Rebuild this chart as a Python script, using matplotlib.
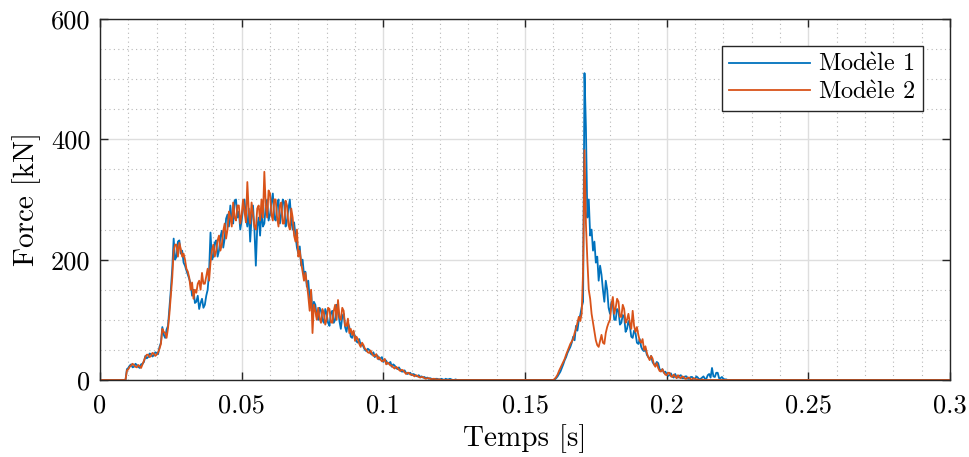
import numpy as np
import matplotlib
matplotlib.use("Agg")
import matplotlib.pyplot as plt
from matplotlib.ticker import MultipleLocator, FuncFormatter

plt.rcParams["font.family"] = ["cmr10", "DejaVu Serif"]
plt.rcParams["axes.formatter.use_mathtext"] = True
plt.rcParams["mathtext.fontset"] = "cm"

# -----------------------------------------------------------
# Data read off the reference (sampled every 0.5 ms)
# -----------------------------------------------------------
dt = 0.0005

# first impact, starts at t = 0.009 s
t0_event1 = 0.009
force1_event1 = [
    0, 18, 20, 24, 26, 21, 22, 27, 25, 22, 20, 26, 27, 30, 40, 36, 38, 44, 43, 39,
    41, 46, 45, 43, 55, 62, 88, 75, 70, 84, 90, 120, 150, 185, 235, 200, 205, 230, 232, 210,
    215, 195, 190, 182, 175, 168, 160, 140, 150, 128, 130, 140, 118, 128, 135, 120, 125, 140, 150, 180,
    245, 200, 205, 228, 232, 205, 215, 238, 248, 220, 235, 268, 275, 255, 290, 265, 260, 298, 300, 270,
    280, 250, 265, 285, 300, 270, 255, 285, 230, 270, 290, 250, 190, 255, 270, 240, 285, 255, 260, 290,
    300, 265, 275, 295, 310, 270, 265, 290, 300, 260, 275, 300, 295, 255, 265, 285, 300, 265, 250, 262,
    240, 220, 210, 222, 190, 200, 175, 180, 155, 165, 135, 148, 110, 130, 125, 105, 100, 120, 115, 100,
    95, 118, 110, 95, 90, 112, 115, 95, 100, 125, 120, 98, 85, 105, 110, 88, 80, 95, 88, 72,
    70, 80, 72, 64, 62, 68, 58, 60, 55, 50, 48, 52, 50, 44, 42, 46, 38, 42, 40, 34,
    36, 38, 30, 34, 32, 27, 28, 30, 22, 26, 24, 20, 18, 21, 17, 14, 14, 16, 12, 10,
    11, 12, 8, 10, 9, 7, 6, 8, 5, 6, 4, 5, 3, 4, 2, 3, 2, 1, 1, 2,
    2, 1, 1, 2, 1, 0, 2, 1, 1, 2, 1, 0, 0, 1, 0, 0, 0, 0, 0, 0,
    0, 0, 0,
]
force2_event1 = [
    0, 16, 18, 22, 24, 27, 25, 22, 21, 25, 23, 20, 26, 32, 38, 42, 42, 38, 40, 45,
    44, 40, 42, 46, 52, 60, 85, 80, 78, 70, 86, 110, 140, 170, 215, 225, 225, 205, 228, 218,
    205, 210, 200, 185, 180, 170, 150, 162, 135, 150, 145, 160, 165, 150, 178, 160, 160, 172, 185, 165,
    195, 215, 225, 205, 215, 232, 240, 215, 225, 248, 260, 235, 250, 280, 270, 255, 295, 270, 265, 290,
    290, 260, 275, 300, 280, 262, 329, 280, 260, 295, 275, 255, 250, 285, 290, 265, 300, 270, 346, 290,
    270, 315, 310, 275, 265, 300, 300, 270, 255, 290, 295, 260, 260, 298, 290, 258, 250, 285, 270, 240,
    230, 250, 205, 215, 195, 180, 165, 178, 160, 140, 115, 150, 78, 125, 115, 100, 120, 102, 95, 118,
    112, 92, 100, 120, 118, 96, 95, 115, 125, 100, 133, 105, 100, 120, 115, 90, 90, 102, 78, 85,
    75, 82, 65, 72, 68, 60, 55, 62, 58, 52, 50, 46, 45, 49, 44, 40, 40, 43, 35, 38,
    34, 31, 32, 35, 26, 29, 27, 24, 24, 21, 19, 22, 20, 17, 15, 17, 16, 13, 10, 12,
    12, 9, 9, 8, 6, 8, 7, 5, 4, 5, 5, 3, 2, 3, 3, 2, 1, 2, 2, 1,
    1, 1, 1, 0, 0, 0, 0, 0, 0, 0, 0, 0, 0, 0, 0, 0, 0, 0, 0, 0,
    0, 0, 0,
]

# second impact, starts at t = 0.160 s
t0_event2 = 0.160
force1_event2 = [
    0, 1, 3, 6, 10, 14, 20, 26, 33, 38, 45, 50, 55, 62, 72, 66, 90, 82, 100, 108,
    121, 130, 510, 420, 270, 300, 240, 250, 215, 230, 195, 205, 165, 190, 175, 150, 130, 165, 150, 120,
    110, 130, 125, 100, 100, 118, 115, 92, 95, 108, 105, 80, 85, 98, 90, 72, 70, 82, 78, 62,
    60, 68, 55, 50, 48, 52, 42, 38, 35, 40, 30, 26, 25, 30, 28, 18, 15, 18, 12, 14,
    10, 7, 8, 11, 6, 4, 10, 5, 4, 7, 8, 3, 3, 6, 6, 2, 2, 5, 5, 2,
    2, 6, 4, 1, 2, 4, 6, 2, 2, 8, 10, 4, 20, 6, 5, 12, 12, 3, 3, 5,
    2, 1, 1, 0, 0,
]
force2_event2 = [
    0, 2, 5, 9, 15, 20, 25, 30, 35, 42, 48, 54, 60, 64, 68, 78, 85, 95, 105, 98,
    110, 180, 382, 260, 200, 150, 135, 110, 95, 80, 66, 58, 55, 65, 75, 62, 60, 78, 88, 95,
    100, 125, 138, 110, 120, 135, 130, 105, 105, 125, 118, 95, 100, 110, 95, 85, 115, 90, 80, 88,
    75, 65, 62, 68, 50, 56, 45, 38, 33, 40, 36, 26, 22, 28, 20, 15, 14, 18, 13, 9,
    8, 12, 12, 6, 5, 9, 6, 3, 8, 4, 3, 6, 5, 2, 2, 4, 4, 1, 1, 3,
    2, 1, 1, 0, 0, 1, 0, 0, 0, 0, 0, 0, 0, 0, 0, 0, 0, 0, 0, 0,
    0, 0, 0, 0, 0,
]

t_end = 0.3


def build_series(ev1, ev2):
    ta = t0_event1 + dt * np.arange(len(ev1))
    tb = t0_event2 + dt * np.arange(len(ev2))
    t = np.concatenate([[0.0], ta, tb, [t_end]])
    f = np.concatenate([[0.0], ev1, ev2, [0.0]])
    return t, f


t_m1, f_m1 = build_series(force1_event1, force1_event2)
t_m2, f_m2 = build_series(force2_event1, force2_event2)

# -----------------------------------------------------------
# Figure
# -----------------------------------------------------------
fig = plt.figure(figsize=(9.69, 4.57), dpi=100)
ax = fig.add_axes([0.1032, 0.1685, 0.8772, 0.79])

ax.plot(t_m1, f_m1, color="#0072BD", lw=1.3, label=r"Mod$\grave{\mathrm{e}}$le 1")
ax.plot(t_m2, f_m2, color="#D95319", lw=1.3, label=r"Mod$\grave{\mathrm{e}}$le 2")

ax.set_xlim(0, 0.3)
ax.set_ylim(0, 600)
ax.xaxis.set_major_locator(MultipleLocator(0.05))
ax.xaxis.set_minor_locator(MultipleLocator(0.01))
ax.yaxis.set_major_locator(MultipleLocator(200))
ax.yaxis.set_minor_locator(MultipleLocator(50))
ax.xaxis.set_major_formatter(FuncFormatter(lambda v, p: f"{v:g}"))
ax.yaxis.set_major_formatter(FuncFormatter(lambda v, p: f"{v:g}"))

ax.grid(which="major", color="#dedede", lw=1.0, ls="-")
ax.grid(which="minor", color="#b8b8b8", lw=0.8, ls=(0, (1, 3)))
ax.set_axisbelow(True)

ax.tick_params(which="major", direction="in", length=6, width=1.0,
               top=True, right=True, labelsize=19, colors="#262626",
               labelcolor="black")
ax.tick_params(axis="x", which="major", pad=10)
ax.tick_params(axis="y", which="major", pad=7)
ax.tick_params(which="minor", length=0)
for s in ax.spines.values():
    s.set_color("#262626")
    s.set_linewidth(1.0)

ax.set_xlabel("Temps [s]", fontsize=21, labelpad=5)
ax.set_ylabel("Force [kN]", fontsize=21, labelpad=7)

leg = ax.legend(loc="upper right", bbox_to_anchor=(0.968, 0.925),
                borderaxespad=0, fontsize=17.5, fancybox=False,
                framealpha=1, edgecolor="#262626", handlelength=3.3,
                handletextpad=0.35, borderpad=0.3, labelspacing=0.2)
leg.get_frame().set_linewidth(1.0)

fig.savefig("out.png", dpi=100)
